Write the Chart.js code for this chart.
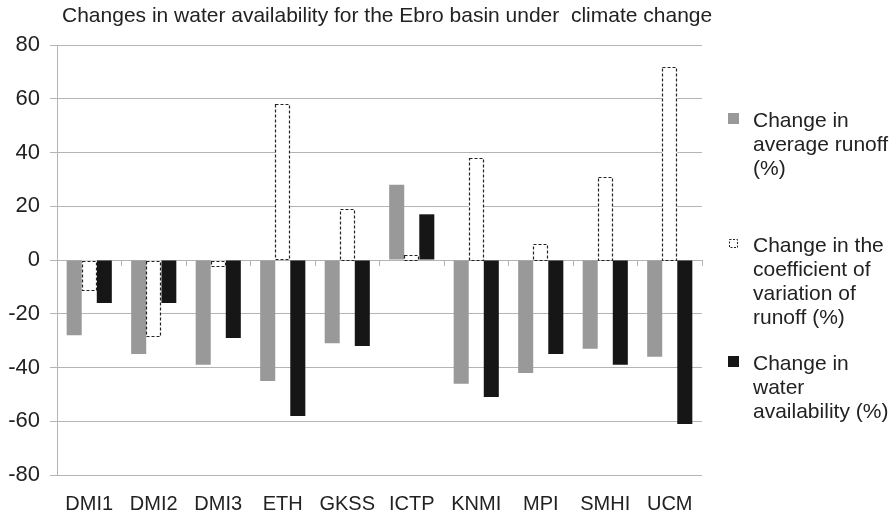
<!DOCTYPE html>
<html>
<head>
<meta charset="utf-8">
<script src="https://cdn.jsdelivr.net/npm/chart.js@4/dist/chart.umd.min.js"></script>
<style>
  body { margin: 0; background: #fff; }
  #wrap { width: 896px; height: 516px; position: relative; }
</style>
</head>
<body>
<div id="wrap"><canvas id="ebroChart"></canvas></div>
<script>
const models = ['DMI1', 'DMI2', 'DMI3', 'ETH', 'GKSS', 'ICTP', 'KNMI', 'MPI', 'SMHI', 'UCM'];
const runoffChange = [-28, -35, -39, -45, -31, 28, -46, -42, -33, -36];
const cvChange = [-11, -28, -2, 58, 19, 2, 38, 6, 31, 72];
const waterChange = [-16, -16, -29, -58, -32, 17, -51, -35, -39, -61];

const titleText = 'Changes in water availability for the Ebro basin under  climate change';
const legendLines = [
    ['Change in', 'average runoff', '(%)'],
    ['Change in the', 'coefficient of', 'variation of', 'runoff (%)'],
    ['Change in', 'water', 'availability (%)']
];
const legendTops = [121, 246, 364];

const FONT = '"Liberation Sans", Arial, sans-serif';
const GRID = '#b4b4b4';

// dashed outline for the coefficient-of-variation bars, plus title and legend
const extras = {
    id: 'extras',
    afterDatasetsDraw(chart) {
        const ctx = chart.ctx;
        const meta = chart.getDatasetMeta(1);
        ctx.save();
        ctx.strokeStyle = '#222';
        ctx.lineWidth = 1.2;
        ctx.setLineDash([3, 2]);
        meta.data.forEach(el => {
            const p = el.getProps(['x', 'y', 'base', 'width'], true);
            const top = Math.min(p.y, p.base);
            const h = Math.abs(p.y - p.base);
            ctx.strokeRect(Math.round(p.x - p.width / 2) + 0.5, Math.round(top) + 0.5,
                Math.round(p.width) - 1, Math.round(h));
        });
        ctx.restore();
    },
    afterDraw(chart) {
        const ctx = chart.ctx;
        ctx.save();
        ctx.fillStyle = '#222';
        ctx.textBaseline = 'middle';
        ctx.font = '21px ' + FONT;
        ctx.fillText(titleText, 62, 16);

        chart.data.datasets.forEach((ds, i) => {
            const y0 = legendTops[i];
            const my = y0 - 7;
            if (i === 1) {
                ctx.fillStyle = '#fff';
                ctx.fillRect(729, my, 9, 9);
                ctx.strokeStyle = '#222';
                ctx.lineWidth = 1;
                ctx.setLineDash([2, 1.5]);
                ctx.strokeRect(729.5, my + 0.5, 8, 8);
                ctx.setLineDash([]);
            } else {
                ctx.fillStyle = ds.backgroundColor;
                ctx.fillRect(728, my - 1, 11, 11);
            }
            ctx.fillStyle = '#222';
            legendLines[i].forEach((line, j) => {
                ctx.fillText(line, 753, y0 + j * 24);
            });
        });
        ctx.restore();
    }
};

new Chart(document.getElementById('ebroChart'), {
    type: 'bar',
    data: {
        labels: models,
        datasets: [
            {
                label: 'Change in average runoff (%)',
                data: runoffChange,
                backgroundColor: '#999999'
            },
            {
                label: 'Change in the coefficient of variation of runoff (%)',
                data: cvChange,
                backgroundColor: '#ffffff'
            },
            {
                label: 'Change in water availability (%)',
                data: waterChange,
                backgroundColor: '#161616'
            }
        ]
    },
    options: {
        responsive: true,
        maintainAspectRatio: false,
        animation: false,
        font: { family: FONT, size: 21 },
        layout: { padding: { top: 45, right: 194, left: 0, bottom: 0 } },
        datasets: {
            bar: { barPercentage: 1.0, categoryPercentage: 0.7, borderWidth: 0 }
        },
        plugins: {
            legend: { display: false },
            title: { display: false },
            tooltip: { enabled: false }
        },
        scales: {
            x: {
                grid: { display: false, drawTicks: false },
                border: { display: false },
                ticks: { color: '#222', font: { family: FONT, size: 20 }, padding: 17, maxRotation: 0 },
                afterFit(scale) { scale.height = 41; }
            },
            x2: {
                type: 'category',
                position: { y: 0 },
                grid: { offset: true, drawOnChartArea: false, tickLength: 5, color: GRID },
                border: { color: GRID },
                ticks: { display: false }
            },
            y: {
                min: -80,
                max: 80,
                ticks: { stepSize: 20, color: '#222', font: { family: FONT, size: 22 }, padding: 10 },
                grid: { color: GRID, tickLength: 7 },
                border: { color: GRID },
                afterFit(scale) { scale.width = 57; }
            }
        }
    },
    plugins: [extras]
});
</script>
</body>
</html>
